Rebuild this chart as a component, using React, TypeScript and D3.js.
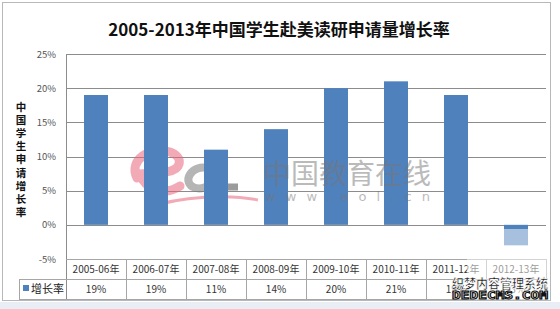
import React from "react";
import * as d3 from "d3";

const categories = ["2005-06年", "2006-07年", "2007-08年", "2008-09年", "2009-10年", "2010-11年", "2011-12年", "2012-13年"];
const growth = [19, 19, 11, 14, 20, 21, 19, -3];
const valueLabels = ["19%", "19%", "11%", "14%", "20%", "21%", "19%", "-3%"];
const yTicks = [-5, 0, 5, 10, 15, 20, 25];
const title = "2005-2013年中国学生赴美读研申请量增长率";
const yTitle = "中国学生申请增长率";
const seriesName = "增长率";

const W = 560;
const H = 309;
const plotL = 66;
const plotR = 546;
const tableTop = 259;
const rowMid = 279;
const tableBottom = 299;

export default function App() {
  const x = d3.scaleBand<string>().domain(categories).range([plotL, plotR]).paddingInner(0.6).paddingOuter(0.3);
  const col = d3.scaleBand<string>().domain(categories).range([plotL, plotR]);
  const y = d3.scaleLinear().domain([-5, 25]).range([tableTop, 54]);
  const font = "'Noto Sans CJK SC', 'Liberation Sans', sans-serif";
  const barColor = "#4f81bd";

  return (
    <div style={{ position: "absolute", left: 0, top: 0, width: W, height: H, background: "#fff" }}>
      <svg width={W} height={H} style={{ display: "block" }} fontFamily={font}>
        <rect x={0} y={0} width={W} height={H} fill="#fff" />
        <rect x={0} y={302} width={W} height={7} fill="#e9eef5" />
        <rect x={2.5} y={2.5} width={548} height={298} fill="#fff" stroke="#b8b8b8" />
        <text x={279} y={36} textAnchor="middle" fontSize={17} fontWeight="bold" fill="#111">{title}</text>
        {/* y axis title */}
        {yTitle.split("").map((c, i) => (
          <text key={i} x={21} y={111 + i * 13.1} textAnchor="middle" fontSize={10.5} fontWeight="bold" fill="#111">{c}</text>
        ))}
        {/* gridlines */}
        {yTicks.filter((t) => t >= 0).map((t) => (
          <line key={t} x1={plotL} x2={plotR} y1={Math.round(y(t)) + 0.5} y2={Math.round(y(t)) + 0.5} stroke="#8c8c8c" strokeWidth={1} />
        ))}
        <line x1={plotL + 0.5} x2={plotL + 0.5} y1={y(25)} y2={tableBottom} stroke="#8c8c8c" />
        {yTicks.map((t) => (
          <text key={t} x={56} y={y(t) + 3.5} textAnchor="end" fontSize={9.5} fill="#555">{t + "%"}</text>
        ))}
        {/* watermark logo behind bars */}
        <g opacity={0.55}>
          <path d="M137,178 C128,160 150,146 170,152 C184,157 182,170 166,172 L140,174 M140,174 C145,190 165,196 180,186" fill="none" stroke="#e8677b" strokeWidth={9} strokeLinecap="round" />
          <ellipse cx={201} cy={178} rx={13} ry={10} fill="none" stroke="#7a7a7a" strokeWidth={8} transform="rotate(-20 201 178)" />
          <path d="M224,160 L221,187 L238,187" fill="none" stroke="#4a4a4a" strokeWidth={7} />
          <path d="M148,208 C180,196 230,194 258,200" fill="none" stroke="#e8677b" strokeWidth={3} />
        </g>
        {/* bars */}
        {categories.map((c, i) => (
          <rect key={c} x={x(c)} width={x.bandwidth()} y={y(Math.max(0, growth[i]))} height={Math.abs(y(growth[i]) - y(0))} fill={barColor} />
        ))}
        {/* text watermark */}
        <g opacity={0.5} fill="#777">
          <text x={263} y={184} fontSize={28} textLength={168} lengthAdjust="spacingAndGlyphs">中国教育在线</text>
          <text x={265} y={201} fontSize={13} textLength={165} fontFamily="'DejaVu Sans', sans-serif">www.eol.cn</text>
        </g>
        {/* table */}
        <g stroke="#a6a6a6" strokeWidth={1}>
          <line x1={plotL} x2={plotR} y1={tableTop + 0.5} y2={tableTop + 0.5} />
          <line x1={19} x2={plotR} y1={rowMid + 0.5} y2={rowMid + 0.5} />
          <line x1={19} x2={plotR} y1={tableBottom + 0.5} y2={tableBottom + 0.5} />
          <line x1={19.5} x2={19.5} y1={rowMid} y2={tableBottom} />
          {categories.map((c) => (
            <line key={c} x1={(col(c) as number) + col.bandwidth() + 0.5} x2={(col(c) as number) + col.bandwidth() + 0.5} y1={tableTop} y2={tableBottom} />
          ))}
        </g>
        {categories.map((c, i) => (
          <text key={c} x={(col(c) as number) + col.bandwidth() / 2} y={273} textAnchor="middle" fontSize={10} fill="#333">{c}</text>
        ))}
        {valueLabels.map((v, i) => (
          <text key={i} x={(col(categories[i]) as number) + col.bandwidth() / 2} y={293} textAnchor="middle" fontSize={10} fill="#333">{v}</text>
        ))}
        <rect x={23} y={285} width={6} height={6} fill={barColor} />
        <text x={31} y={293} fontSize={11} fill="#222">{seriesName}</text>
        {/* bottom-right watermark */}
        <rect x={467} y={229} width={83} height={71} fill="#fff" opacity={0.5} />
        <text x={452} y={287.5} fontSize={13} fontWeight="bold" fill="#111" stroke="#fff" strokeWidth={0.6} textLength={96} lengthAdjust="spacingAndGlyphs">织梦内容管理系统</text>
        <text x={452} y={298.5} fontSize={11} fontWeight="bold" fill="#fff" stroke="#111" strokeWidth={1} textLength={96} lengthAdjust="spacingAndGlyphs" fontFamily="'DejaVu Sans Mono', monospace">DEDECMS.COM</text>
      </svg>
    </div>
  );
}
